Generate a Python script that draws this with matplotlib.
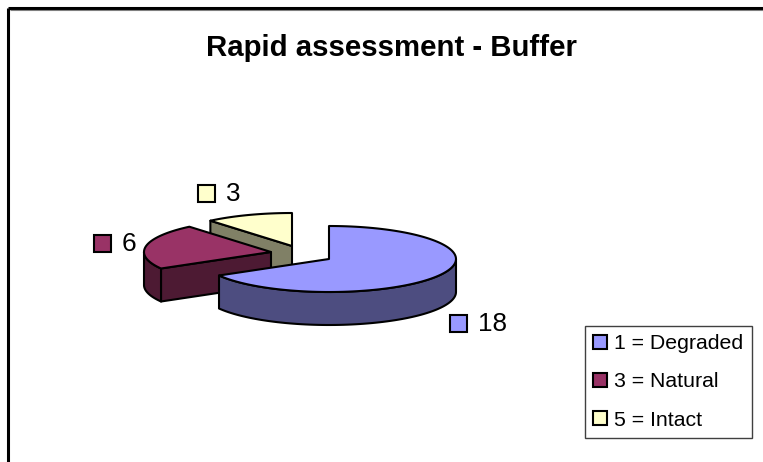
"""Rapid assessment pie, drawn as an exploded 3D-style pie"""

import numpy as np
import matplotlib
matplotlib.use('Agg')
import matplotlib.pyplot as plt
from matplotlib.patches import Polygon, Rectangle, Patch

categories = ['1 = Degraded', '3 = Natural', '5 = Intact']
values = [18, 6, 3]

top_colors = ['#9999FF', '#993366', '#FFFFCC']
side_colors = ['#4D4D80', '#4D1A33', '#808066']

plt.rcParams['font.family'] = ['Liberation Sans', 'DejaVu Sans']

# Pixel style axes, same size as the picture
fig = plt.figure(figsize=(7.63, 4.62), dpi=100)
ax = fig.add_axes([0, 0, 1, 1])
ax.set_xlim(0, 763)
ax.set_ylim(462, 0)
ax.axis('off')

# Pie geometry
rx, ry, depth = 127, 33, 33
tips = [(329, 259), (271, 252), (292, 246)]
label_pos = [(450, 323), (94, 243), (198, 193)]
line_w = 1.5


def rim(tip, angles, drop=0):
    """Points on the ellipse, angles clockwise from 12 o'clock"""
    t = np.radians(angles)
    return np.column_stack((tip[0] + rx * np.sin(t), tip[1] - ry * np.cos(t) + drop))


def add_poly(points, color, z):
    ax.add_patch(Polygon(points, closed=True, facecolor=color, edgecolor='black',
                         linewidth=line_w, joinstyle='round', zorder=z))


def add_cut_face(tip, angle, color, z):
    edge = rim(tip, [angle])[0]
    add_poly([tip, edge, (edge[0], edge[1] + depth), (tip[0], tip[1] + depth)], color, z)


# Slice angles come from the values
edges = np.cumsum([0] + values) / sum(values) * 360

# Back slices first so the front ones cover them
for i in reversed(range(len(values))):
    start, end = edges[i], edges[i + 1]
    tip = tips[i]
    z = 10 + (len(values) - i) * 3

    if 180 < start % 360:
        add_cut_face(tip, start, side_colors[i], z)
    if 0 < end % 360 < 180:
        add_cut_face(tip, end, side_colors[i], z)

    # Outer wall, only the part facing the viewer
    lo, hi = max(start, 90), min(end, 270)
    if lo < hi:
        arc = np.linspace(lo, hi, 80)
        wall = np.vstack((rim(tip, arc), rim(tip, arc[::-1], depth)))
        add_poly(wall, side_colors[i], z + 1)

    arc = np.linspace(start, end, 120)
    add_poly(np.vstack(([tip], rim(tip, arc))), top_colors[i], z + 2)

# Data labels with their colour keys
for i, val in enumerate(values):
    x, y = label_pos[i]
    ax.add_patch(Rectangle((x, y - 8.5), 17, 17, facecolor=top_colors[i],
                           edgecolor='black', linewidth=1.5, zorder=30))
    ax.text(x + 28, y + 1, str(val), fontsize=18.8, ha='left', va='center', zorder=30)

# Chart frame, right and bottom run off the picture
ax.plot([8, 8], [462, 8], color='black', linewidth=2.2, solid_capstyle='butt')
ax.plot([8, 763], [8, 8], color='black', linewidth=2.2, solid_capstyle='butt')
ax.plot([10, 763], [10, 10], color='#808080', linewidth=0.8, solid_capstyle='butt')

ax.text(391, 48, 'Rapid assessment - Buffer', fontsize=21.2, fontweight='bold',
        ha='center', va='center')

handles = [Patch(facecolor=c, edgecolor='black', linewidth=1.5) for c in top_colors]
leg = ax.legend(handles, categories, loc='lower right', bbox_to_anchor=(752, 438),
                bbox_transform=ax.transData, fontsize=15.3, frameon=True, fancybox=False,
                framealpha=1, edgecolor='#404040', handlelength=0.65, handleheight=0.65,
                handletextpad=0.35, labelspacing=0.9, borderpad=0.4, borderaxespad=0)
leg.get_frame().set_linewidth(1.0)

fig.savefig('out.png', dpi=100)
